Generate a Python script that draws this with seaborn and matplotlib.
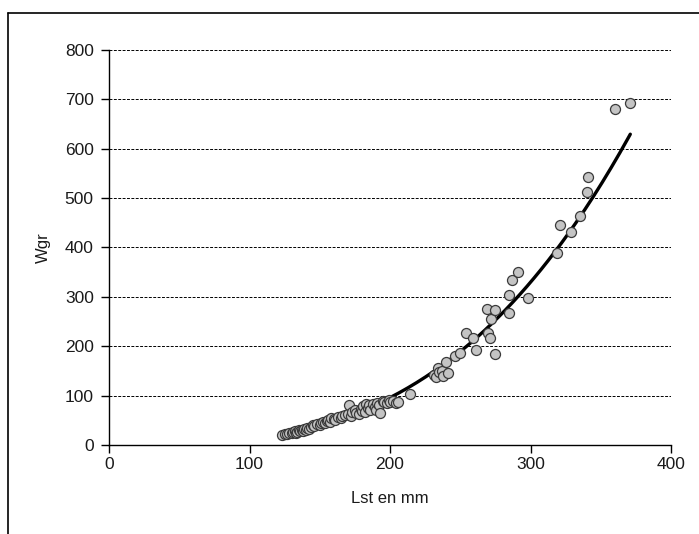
import numpy as np
import pandas as pd
import seaborn as sns
import matplotlib.pyplot as plt
from matplotlib.lines import Line2D

# fish length (mm) and weight (g)
lst = [123, 125, 127, 128, 130, 131, 132, 133, 134, 135, 136, 137, 138, 139, 140,
       141, 142, 144, 145, 146, 148, 150, 151, 152, 154, 155, 156, 157, 158, 160,
       161, 163, 165, 166, 168, 170, 171, 172, 173, 175, 176, 178, 179, 180, 181,
       182, 183, 184, 185, 186, 188, 189, 190, 191, 192, 193, 195, 196, 198, 199,
       200, 202, 204, 206, 214, 231, 233, 234, 235, 237, 238, 240, 241, 246, 250,
       254, 259, 261, 269, 270, 271, 272, 275, 275, 285, 285, 287, 291, 298, 319,
       321, 329, 335, 340, 341, 360, 371]
wgr = [21, 23, 22, 25, 24, 26, 28, 25, 27, 30, 28, 31, 29, 33, 31,
       34, 32, 37, 40, 38, 42, 41, 44, 46, 45, 48, 50, 47, 55, 52,
       50, 56, 54, 58, 60, 63, 80, 58, 67, 70, 64, 62, 72, 69, 78,
       66, 82, 75, 80, 71, 84, 77, 70, 86, 80, 65, 90, 88, 86, 92,
       87, 89, 85, 88, 103, 142, 138, 156, 147, 150, 140, 168, 145, 180, 186,
       226, 216, 192, 275, 226, 216, 256, 273, 184, 268, 304, 335, 351, 298, 388,
       445, 432, 464, 513, 543, 680, 693]

df = pd.DataFrame({"Lst": lst, "Wgr": wgr})

# power trendline W = a * L^b, fitted in log-log space like a spreadsheet does
b, log_a = np.polyfit(np.log(df["Lst"]), np.log(df["Wgr"]), 1)
xs = np.linspace(df["Lst"].min(), df["Lst"].max(), 200)
fit = pd.DataFrame({"Lst": xs, "Wgr": np.exp(log_a) * xs ** b})

sns.set_style("white")
plt.rcParams["font.family"] = ["Liberation Sans", "DejaVu Sans"]

fig = plt.figure(figsize=(6.99, 5.34), dpi=100)
ax = fig.add_axes([0.156, 0.1667, 0.804, 0.7397])

sns.lineplot(data=fit, x="Lst", y="Wgr", color="black", linewidth=2.4, ax=ax, zorder=2)
sns.scatterplot(data=df, x="Lst", y="Wgr", s=52, color="#c4c4c4", edgecolor="#3a3a3a",
                linewidth=0.9, ax=ax, zorder=3)

ax.set_xlim(0, 400)
ax.set_ylim(0, 800)
ax.set_xticks(range(0, 401, 100))
ax.set_yticks(range(0, 801, 100))
ax.yaxis.grid(True, linestyle=(0, (3, 1.5)), color="black", linewidth=0.7)
ax.set_axisbelow(True)

for side in ["top", "right"]:
    ax.spines[side].set_visible(False)
for side in ["left", "bottom"]:
    ax.spines[side].set_color("black")
    ax.spines[side].set_linewidth(1.0)

ax.tick_params(axis="both", direction="out", length=6, width=1, colors="black",
               labelsize=12.5, labelcolor="#1a1a1a", bottom=True, left=True)
ax.tick_params(axis="y", pad=5)
ax.tick_params(axis="x", pad=3)

ax.set_xlabel("Lst en mm", fontsize=12, color="#1a1a1a", labelpad=13)
ax.set_ylabel("Wgr", fontsize=12, color="#1a1a1a", labelpad=10)

# outer chart frame (top and left edge only are visible in the original)
fig.add_artist(Line2D([8 / 699, 1], [1 - 13 / 534, 1 - 13 / 534], color="black", linewidth=1.2,
                      transform=fig.transFigure))
fig.add_artist(Line2D([8 / 699, 8 / 699], [0, 1 - 13 / 534], color="black", linewidth=1.2,
                      transform=fig.transFigure))

fig.savefig("out.png", dpi=100)
